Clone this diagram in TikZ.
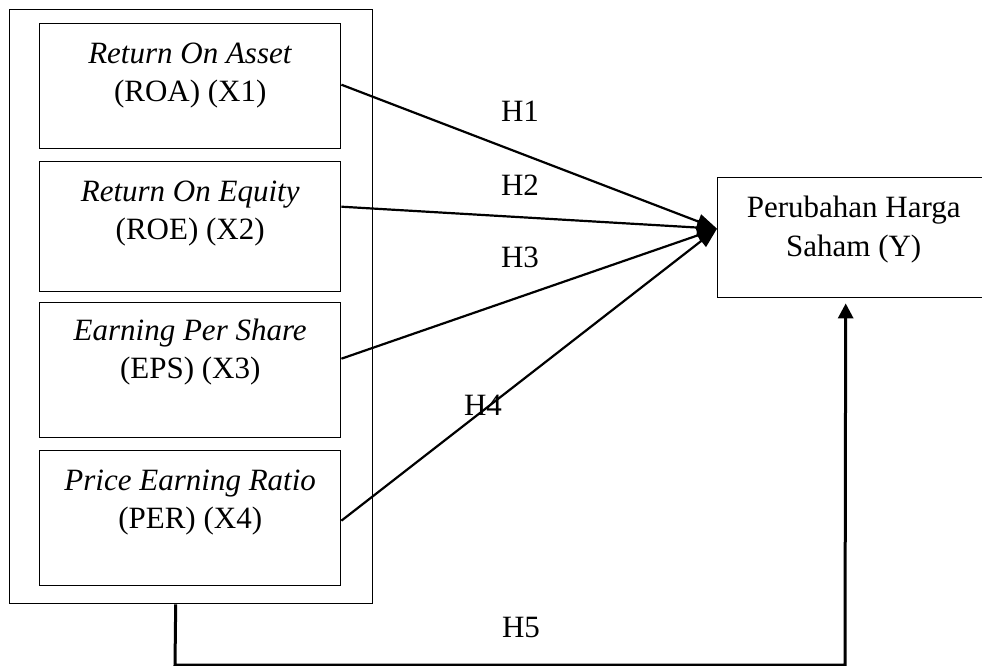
\documentclass[tikz,border=0pt]{standalone}
\usepackage{fontspec}
\setmainfont{Liberation Serif}
\usetikzlibrary{arrows.meta,calc}
\begin{document}
\begin{tikzpicture}[x=1pt,y=-1pt,
  font=\fontsize{31}{38}\selectfont,
  varbox/.style={draw, line width=1.4pt, minimum width=301pt, minimum height=#1, inner sep=0pt, anchor=north west},
  lbl/.style={inner sep=0pt, anchor=base},
  hyp/.style={line width=2.2pt, -{Triangle[length=20pt,width=15pt]}},
  hfive/.style={line width=3pt, -{Triangle[length=15pt,width=15pt]}}
]
\clip (0,0) rectangle (982,666);
% outer frame
\node[draw, line width=1.4pt, minimum width=363pt, minimum height=594pt, inner sep=0pt, anchor=north west] (outer) at (9,9) {};
% variable boxes
\node[varbox=125pt] (b1) at (39,23) {};
\node[varbox=130pt] (b2) at (39,161) {};
\node[varbox=135pt] (b3) at (39,302) {};
\node[varbox=135pt] (b4) at (39,450) {};
% dependent box (runs past the right edge)
\node[draw, line width=1.4pt, minimum width=272pt, minimum height=120pt, inner sep=0pt, anchor=north west] (Y) at (717,177) {};
% texts
\node[lbl] (t1a) at ($(b1.north)+(0,41)$) {\textit{Return On Asset}};
\node[lbl] (t1b) at ($(b1.north)+(0,79)$) {(ROA) (X1)};
\node[lbl] (t2a) at ($(b2.north)+(0,40)$) {\textit{Return On Equity}};
\node[lbl] (t2b) at ($(b2.north)+(0,78)$) {(ROE) (X2)};
\node[lbl] (t3a) at ($(b3.north)+(0,38)$) {\textit{Earning Per Share}};
\node[lbl] (t3b) at ($(b3.north)+(0,76)$) {(EPS) (X3)};
\node[lbl] (t4a) at ($(b4.north)+(0,40)$) {\textit{Price Earning Ratio}};
\node[lbl] (t4b) at ($(b4.north)+(0,78)$) {(PER) (X4)};
\node[lbl] (tya) at ($(Y.north)+(0,40)$) {Perubahan Harga};
\node[lbl] (tyb) at ($(Y.north)+(0,79)$) {Saham (Y)};
% connectors
\coordinate (tip) at ($(Y.west)+(0,-9)$);
\draw[hyp] ($(b1.east)+(0,-1.5)$) -- (tip);
\draw[hyp] ($(b2.east)+(0,-20)$) -- (tip);
\draw[hyp] ($(b3.east)+(0,-11.5)$) -- (tip);
\draw[hyp] ($(b4.east)+(0,2.5)$) -- (tip);
\coordinate (c1) at (175,665);
\coordinate (c2) at (845,665);
\draw[hfive] ($(outer.south)+(-15.5,0)$) -- (c1) -- (c2) -- ($(Y.south)+(-8,5)$);
% hypothesis labels
\node[lbl] (h1) at (520,122) {H1};
\node[lbl] (h2) at (520,195) {H2};
\node[lbl] (h3) at (520,267) {H3};
\node[lbl] (h4) at (483,415) {H4};
\node[lbl] (h5) at (521,637) {H5};
\end{tikzpicture}
\end{document}
